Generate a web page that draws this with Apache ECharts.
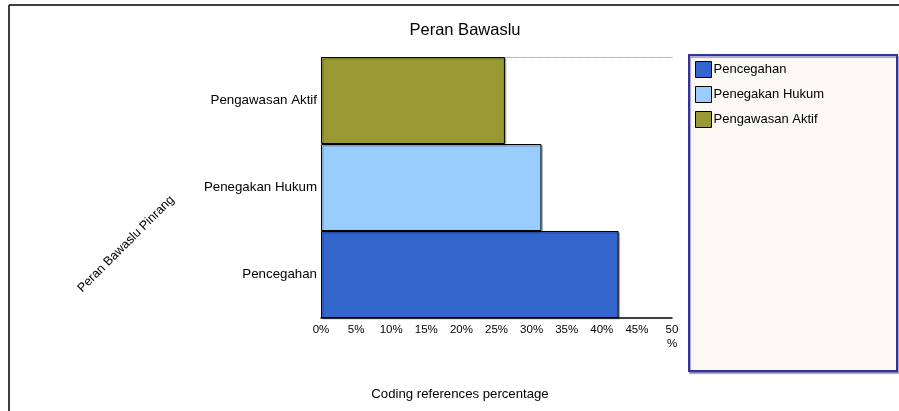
<!DOCTYPE html>
<html>
<head>
<meta charset="utf-8">
<script src="https://cdn.jsdelivr.net/npm/echarts@6/dist/echarts.min.js"></script>
<style>html,body{margin:0;padding:0;background:#fff}#c{width:899px;height:411px}</style>
</head>
<body>
<div id="c"></div>
<script>
const titleText = 'Peran Bawaslu';
const categories = ['Pencegahan', 'Penegakan Hukum', 'Pengawasan Aktif'];
const values = [42.4, 31.4, 26.2];
const colors = ['#3366cc', '#99ccff', '#999933'];
const xTicks = [0, 5, 10, 15, 20, 25, 30, 35, 40, 45, 50];
const xName = 'Coding references percentage';
const yName = 'Peran Bawaslu Pinrang';

const font = '"Liberation Sans", Arial, sans-serif';
const chart = echarts.init(document.getElementById('c'), null, {renderer: 'canvas'});

const series = categories.map((name, i) => ({
  name: name,
  type: 'bar',
  stack: 'all',
  barCategoryGap: 0,
  data: categories.map((c, j) => (j === i ? values[i] : null)),
  itemStyle: {color: colors[i], borderColor: '#000', borderWidth: 1,
    shadowColor: 'rgba(0,0,0,0.25)', shadowOffsetX: 1.5, shadowOffsetY: 1.5, shadowBlur: 0},
  emphasis: {disabled: true}
}));

chart.setOption({
  animation: false,
  textStyle: {fontFamily: font},
  title: {text: titleText, left: 460, top: 17, textAlign: 'center',
    textStyle: {fontSize: 16.5, fontWeight: 'normal', color: '#000', fontFamily: font}},
  graphic: [
    {type: 'line', shape: {x1: 9, y1: 5, x2: 899, y2: 5}, style: {stroke: '#000', lineWidth: 1.5}, z: 0},
    {type: 'line', shape: {x1: 9, y1: 5, x2: 9, y2: 411}, style: {stroke: '#000', lineWidth: 1.5}, z: 0},
    {type: 'rect', shape: {x: 689, y: 55, width: 208, height: 316},
      style: {fill: '#fcf9f5', stroke: '#333399', lineWidth: 2,
        shadowColor: 'rgba(80,80,160,0.5)', shadowOffsetX: 1, shadowOffsetY: 2, shadowBlur: 1}, z: 0},
    {type: 'text', x: 126, y: 244, rotation: Math.PI / 4,
      style: {text: yName, fontSize: 12.5, fill: '#000', fontFamily: font, align: 'center', verticalAlign: 'middle'}, z: 5},
    {type: 'text', x: 460, y: 394,
      style: {text: xName, fontSize: 13.2, fill: '#000', fontFamily: font, align: 'center', verticalAlign: 'middle'}, z: 5}
  ],
  legend: {
    orient: 'vertical', left: 695, top: 61, padding: 0,
    itemWidth: 16, itemHeight: 16, itemGap: 8, icon: 'rect',
    data: categories,
    textStyle: {fontSize: 13, color: '#000', fontFamily: font, padding: [0, 0, 0, -3]},
    itemStyle: {borderColor: '#000', borderWidth: 1}
  },
  grid: {left: 321, right: 227, top: 57, bottom: 93, containLabel: false},
  xAxis: [
    {type: 'value', min: 0, max: 50, interval: 5, position: 'bottom',
      axisLine: {show: true, lineStyle: {color: '#000', width: 1.5}},
      axisTick: {show: false}, splitLine: {show: false},
      axisLabel: {color: '#000', fontSize: 11.5, margin: 5, fontFamily: font, lineHeight: 14,
        formatter: v => (v === 50 ? '50\n%' : v + '%')},
      data: xTicks},
    {type: 'value', min: 0, max: 50, position: 'top',
      axisLine: {show: true, lineStyle: {color: '#aaa', width: 1, type: [1, 1]}},
      axisTick: {show: false}, axisLabel: {show: false}, splitLine: {show: false}}
  ],
  yAxis: {type: 'category', data: categories,
    axisLine: {show: false}, axisTick: {show: false},
    axisLabel: {color: '#000', fontSize: 13.3, margin: 4, fontFamily: font}},
  series: series
});
</script>
</body>
</html>
